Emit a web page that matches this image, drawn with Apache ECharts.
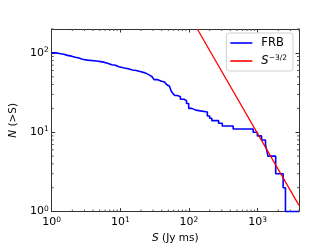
<!DOCTYPE html>
<html><head><meta charset="utf-8">
<script src="https://cdn.jsdelivr.net/npm/echarts@6/dist/echarts.min.js"></script>
<style>html,body{margin:0;padding:0;background:#fff}#c{width:332px;height:249px}</style>
</head><body><div id="c"></div>
<script>
// FRB cumulative counts: flux S (Jy ms) and N(>S), drawn as steps
var frbFlux = [1,1.15,1.3,1.5,1.7,1.95,2.2,2.5,2.8,3.3,4.5,5.5,6.5,7.5,8.5,9.5,11,13,15,17,20,23,25,27,29,31,35,40,44,47,50,52,55,58,62,68,75,85,92,99,110,125,185,200,215,270,305,440,860,990,1140,1300,1350,1410,1830,2350,2540,4000];
var frbCount = [100,98,96,93,91,88,86,83,81,79,77,74,71,70,67,65,63,61,60,58,56,54,52,50,48,46,44,43,42,40,38,36,33,31,29,28,26,25,23,20,19,18,16,15,14,13,12,11,10,9,8,7,6,5,3,2,1,1];
// S^-3/2 reference line endpoints
var powFlux = [132, 4000];
var powCount = [200, 1.2];
// axis minor ticks
var xMinor = [2,3,4,5,6,7,8,9,20,30,40,50,60,70,80,90,200,300,400,500,600,700,800,900,2000,3000,4000];
var yMinor = [2,3,4,5,6,7,8,9,20,30,40,50,60,70,80,90,200];

var FONT = 'DejaVu Sans';
var AX = '#333';
function pow10Label(v){
  var e = Math.round(Math.log10(v));
  if (Math.abs(Math.pow(10,e)-v) > 1e-6*v) return '';
  return '{b|10}{s|' + e + '}';
}
var labRich = {b:{fontSize:11,fontFamily:FONT,color:'#000'}, s:{fontSize:7.5,fontFamily:FONT,color:'#000',verticalAlign:'top',padding:[0,0,6,0]}};

var chart = echarts.init(document.getElementById('c'), null, {renderer:'canvas'});
function minorRender(isX){
  return function(params, api){
    var cs = params.coordSys;
    var v = api.value(isX ? 0 : 1);
    var L = 2;
    if (isX){
      var p = api.coord([v, 1]);
      var yb = cs.y + cs.height, yt = cs.y;
      return {type:'group', children:[
        {type:'line', shape:{x1:p[0],y1:yb,x2:p[0],y2:yb-L}, style:{stroke:'#555',lineWidth:1}},
        {type:'line', shape:{x1:p[0],y1:yt,x2:p[0],y2:yt+L}, style:{stroke:'#555',lineWidth:1}}
      ]};
    } else {
      var q = api.coord([1, v]);
      var xl = cs.x, xr = cs.x + cs.width;
      return {type:'group', children:[
        {type:'line', shape:{x1:xl,y1:q[1],x2:xl+L,y2:q[1]}, style:{stroke:'#555',lineWidth:1}},
        {type:'line', shape:{x1:xr,y1:q[1],x2:xr-L,y2:q[1]}, style:{stroke:'#555',lineWidth:1}}
      ]};
    }
  };
}
var axisCommon = {
  type:'log', logBase:10,
  axisLine:{show:true, lineStyle:{color:AX, width:1}},
  axisTick:{show:true, inside:true, length:3.5, lineStyle:{color:AX, width:1}},
  splitLine:{show:false}
};
chart.setOption({
  animation:false,
  backgroundColor:'#fff',
  grid:{left:42, right:33, top:29, bottom:28, containLabel:false},
  legend:{
    orient:'vertical', right:39, top:33,
    data:[{name:'FRB', icon:'rect'},{name:'pow', icon:'rect'}],
    itemWidth:22, itemHeight:1.6, itemGap:5,
    padding:[4,6,4,4],
    borderColor:'#d0d0d0', borderWidth:1, borderRadius:3,
    backgroundColor:'#fff',
    formatter:function(n){ return n==='FRB' ? '{t|FRB}' : '{i|S}{s|\u22123/2}'; },
    textStyle:{fontFamily:FONT, fontSize:11.5, color:'#000', padding:[0,0,0,4], rich:{
      t:{fontFamily:FONT,fontSize:11.5,color:'#000',height:12},
      i:{fontFamily:FONT,fontSize:11.5,fontStyle:'italic',color:'#000',height:12},
      s:{fontFamily:FONT,fontSize:7.5,color:'#000',verticalAlign:'top',padding:[0,0,6,0]}
    }}
  },
  xAxis:[
    Object.assign({}, axisCommon, {position:'bottom', min:1, max:4000,
      axisLabel:{formatter:pow10Label, rich:labRich, margin:4, showMaxLabel:false},
      name:'{i|S} (Jy ms)', nameLocation:'middle', nameGap:14,
      nameTextStyle:{fontFamily:FONT, fontSize:10.5, color:'#000', rich:{i:{fontFamily:FONT,fontSize:10.5,fontStyle:'italic',color:'#000'}}}
    }),
    Object.assign({}, axisCommon, {position:'top', min:1, max:4000, axisLabel:{show:false}})
  ],
  yAxis:[
    Object.assign({}, axisCommon, {position:'left', min:1, max:200,
      axisLabel:{formatter:pow10Label, rich:labRich, margin:3, showMaxLabel:false},
      name:'{i|N} (>S)', nameLocation:'middle', nameGap:28, nameRotate:90,
      nameTextStyle:{fontFamily:FONT, fontSize:10.5, color:'#000', rich:{i:{fontFamily:FONT,fontSize:10.5,fontStyle:'italic',color:'#000'}}}
    }),
    Object.assign({}, axisCommon, {position:'right', min:1, max:200, axisLabel:{show:false}})
  ],
  series:[
    {name:'FRB', type:'line', step:'end', symbol:'none', xAxisIndex:0, yAxisIndex:0,
     data: frbFlux.map(function(x,i){return [x, frbCount[i]];}),
     lineStyle:{color:'#0000ff', width:1.6}, itemStyle:{color:'#0000ff'}, z:3},
    {name:'pow', type:'line', symbol:'none', xAxisIndex:0, yAxisIndex:0,
     data: powFlux.map(function(x,i){return [x, powCount[i]];}),
     lineStyle:{color:'#ff0000', width:1.3}, itemStyle:{color:'#ff0000'}, z:4},
    {type:'custom', xAxisIndex:0, yAxisIndex:0, renderItem:minorRender(true), clip:false,
     encode:{x:0, y:1}, data:xMinor.map(function(v){return [v, 1];}), silent:true, z:5},
    {type:'custom', xAxisIndex:0, yAxisIndex:0, renderItem:minorRender(false), clip:false,
     encode:{x:0, y:1}, data:yMinor.map(function(v){return [1, v];}), silent:true, z:5}
  ]
});
</script></body></html>
